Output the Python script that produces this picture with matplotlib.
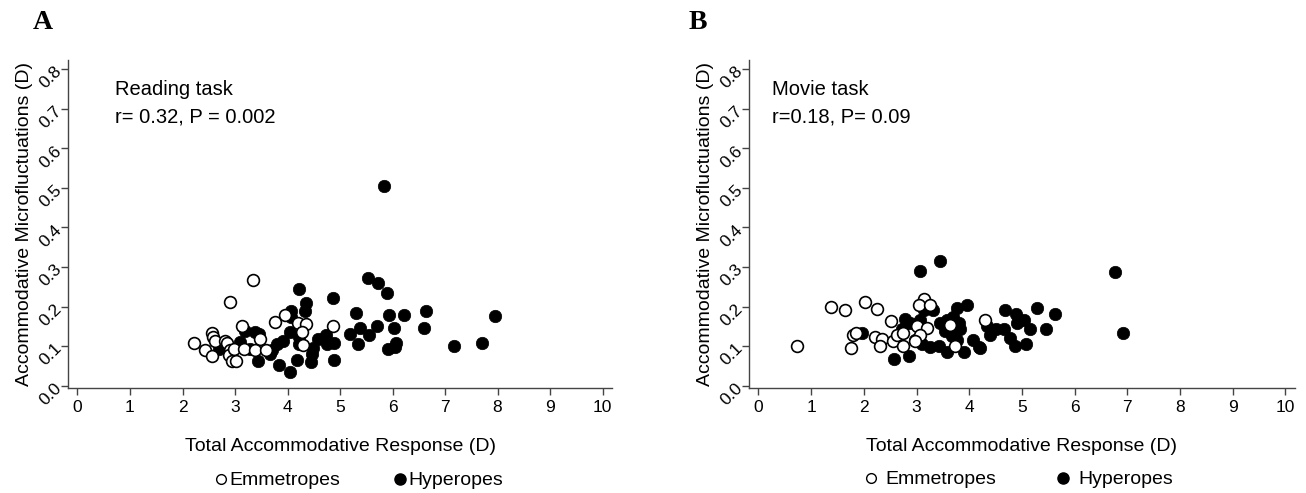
import matplotlib
matplotlib.use("Agg")
import matplotlib.pyplot as plt
import matplotlib.lines as mlines

plt.rcParams['font.family'] = ['Liberation Sans', 'DejaVu Sans']

# Panel A: reading task
read_emm_x = [3.35, 2.91, 3.13, 3.76, 3.95, 4.20, 4.35, 4.87, 4.27, 4.30, 3.48, 2.57, 2.59,
              2.62, 2.81, 2.85, 2.22, 2.42, 2.56, 2.90, 2.88, 2.94, 3.02, 2.98, 3.17, 3.38, 3.59]
read_emm_y = [0.266, 0.211, 0.152, 0.162, 0.178, 0.159, 0.157, 0.151, 0.136, 0.102, 0.117, 0.134, 0.123,
              0.114, 0.114, 0.109, 0.109, 0.089, 0.074, 0.089, 0.077, 0.062, 0.061, 0.093, 0.092, 0.089, 0.089]
read_hyp_x = [5.84, 5.53, 5.73, 5.89, 4.21, 4.87, 4.35, 4.33, 4.06, 4.07, 5.30, 5.93, 6.21, 6.64,
              6.60, 6.03, 5.70, 5.39, 5.19, 5.56, 5.34, 6.06, 6.05, 5.92, 4.88, 4.88, 4.73, 4.59,
              4.75, 4.49, 4.47, 4.45, 4.18, 4.04, 3.83, 3.43, 4.05, 4.21, 4.21, 3.92, 3.80, 3.70,
              3.67, 3.19, 3.38, 3.45, 3.09, 3.28, 2.69, 7.17, 7.71, 7.95]
read_hyp_y = [0.504, 0.273, 0.259, 0.234, 0.245, 0.222, 0.208, 0.189, 0.189, 0.173, 0.183, 0.178, 0.178, 0.189,
              0.146, 0.145, 0.152, 0.146, 0.130, 0.128, 0.106, 0.109, 0.098, 0.093, 0.108, 0.064, 0.127, 0.118,
              0.106, 0.095, 0.081, 0.060, 0.066, 0.035, 0.051, 0.061, 0.136, 0.123, 0.106, 0.114, 0.106, 0.089,
              0.081, 0.137, 0.136, 0.130, 0.110, 0.093, 0.093, 0.099, 0.108, 0.175]

# Panel B: movie task
movie_emm_x = [0.74, 1.37, 1.65, 2.03, 2.25, 2.51, 1.80, 1.86, 1.75, 2.21, 2.34, 2.30, 2.56, 2.75,
               2.62, 2.75, 3.15, 3.05, 3.26, 3.00, 3.19, 3.07, 2.97, 3.73, 4.29, 3.64]
movie_emm_y = [0.099, 0.198, 0.190, 0.211, 0.194, 0.164, 0.127, 0.132, 0.095, 0.122, 0.119, 0.099, 0.114, 0.101,
               0.129, 0.133, 0.220, 0.204, 0.205, 0.150, 0.146, 0.129, 0.112, 0.099, 0.165, 0.154]
movie_hyp_x = [3.07, 3.45, 3.15, 3.32, 3.77, 3.96, 2.78, 2.88, 3.07, 2.73, 1.96, 2.97, 3.10, 3.26,
               3.42, 3.58, 3.90, 4.08, 4.18, 2.58, 2.86, 3.45, 3.58, 3.70, 3.80, 3.83, 3.54, 3.67,
               3.77, 4.34, 4.40, 4.50, 6.76, 6.91, 4.67, 4.88, 5.28, 5.62, 5.03, 5.16, 5.45, 5.07,
               4.86, 4.78, 4.65, 4.21, 4.91]
movie_hyp_y = [0.289, 0.315, 0.192, 0.192, 0.197, 0.203, 0.169, 0.159, 0.165, 0.144, 0.132, 0.116, 0.104, 0.098,
               0.099, 0.084, 0.085, 0.115, 0.098, 0.068, 0.074, 0.159, 0.167, 0.174, 0.159, 0.142, 0.137, 0.125,
               0.116, 0.150, 0.129, 0.142, 0.287, 0.133, 0.192, 0.180, 0.197, 0.180, 0.165, 0.142, 0.143, 0.106,
               0.099, 0.121, 0.142, 0.095, 0.159]

x_ticks = list(range(0, 11))
y_ticks = [0.0, 0.1, 0.2, 0.3, 0.4, 0.5, 0.6, 0.7, 0.8]

fig = plt.figure(figsize=(13.06, 4.93), dpi=100)
ax_a = fig.add_axes([0.0521, 0.213, 0.4165, 0.665])
ax_b = fig.add_axes([0.5735, 0.213, 0.418, 0.665])

spine_col = "#444444"


def draw_panel(ax, emm_x, emm_y, hyp_x, hyp_y, task, stats, text_x):
    ax.scatter(hyp_x, hyp_y, s=80, c="black", edgecolors="black", linewidths=0.5, zorder=3)
    ax.scatter(emm_x, emm_y, s=72, facecolors="white", edgecolors="black", linewidths=1.2, zorder=4)
    ax.set_xlim(-0.18, 10.18)
    ax.set_ylim(-0.006, 0.823)
    ax.set_xticks(x_ticks)
    ax.set_xticklabels([str(t) for t in x_ticks], fontsize=12.5)
    ax.set_yticks(y_ticks)
    ax.set_yticklabels([f"{t:.1f}" for t in y_ticks], fontsize=12.5, rotation=45,
                       ha="right", va="center", rotation_mode="anchor")
    for side in ["top", "right"]:
        ax.spines[side].set_visible(False)
    for side in ["left", "bottom"]:
        ax.spines[side].set_color(spine_col)
        ax.spines[side].set_linewidth(1.0)
    ax.tick_params(colors=spine_col, length=5, width=1.0, labelcolor="black")
    ax.tick_params(axis="x", pad=4)
    ax.tick_params(axis="y", pad=1)
    ax.set_xlabel("Total Accommodative Response (D)", fontsize=14, labelpad=16)
    ax.set_ylabel("Accommodative Microfluctuations (D)", fontsize=14, labelpad=3)
    ax.text(text_x, 0.909, task, transform=ax.transAxes, fontsize=14.5, va="center")
    ax.text(text_x, 0.826, stats, transform=ax.transAxes, fontsize=14.5, va="center")


draw_panel(ax_a, read_emm_x, read_emm_y, read_hyp_x, read_hyp_y,
           "Reading task", "r= 0.32, P = 0.002", 0.086)
draw_panel(ax_b, movie_emm_x, movie_emm_y, movie_hyp_x, movie_hyp_y,
           "Movie task", "r=0.18, P= 0.09", 0.042)

fig.text(0.025, 0.955, "A", fontsize=20, fontweight="bold", family="Liberation Serif", va="center")
fig.text(0.527, 0.955, "B", fontsize=20, fontweight="bold", family="Liberation Serif", va="center")


def make_handles():
    return [
        mlines.Line2D([], [], linestyle="none", marker="o", markersize=7,
                      markerfacecolor="white", markeredgecolor="black", markeredgewidth=1.0, label="Emmetropes"),
        mlines.Line2D([], [], linestyle="none", marker="o", markersize=8,
                      markerfacecolor="black", markeredgecolor="black", label="Hyperopes"),
    ]


fig.legend(handles=make_handles(), loc="center", bbox_to_anchor=(0.274, 0.025), ncol=2,
           frameon=False, fontsize=14, handletextpad=0.0, columnspacing=2.6, handlelength=0.9)
fig.legend(handles=make_handles(), loc="center", bbox_to_anchor=(0.779, 0.027), ncol=2,
           frameon=False, fontsize=14, handletextpad=0.3, columnspacing=3.0, handlelength=0.9)

fig.savefig("out.png", dpi=100)
